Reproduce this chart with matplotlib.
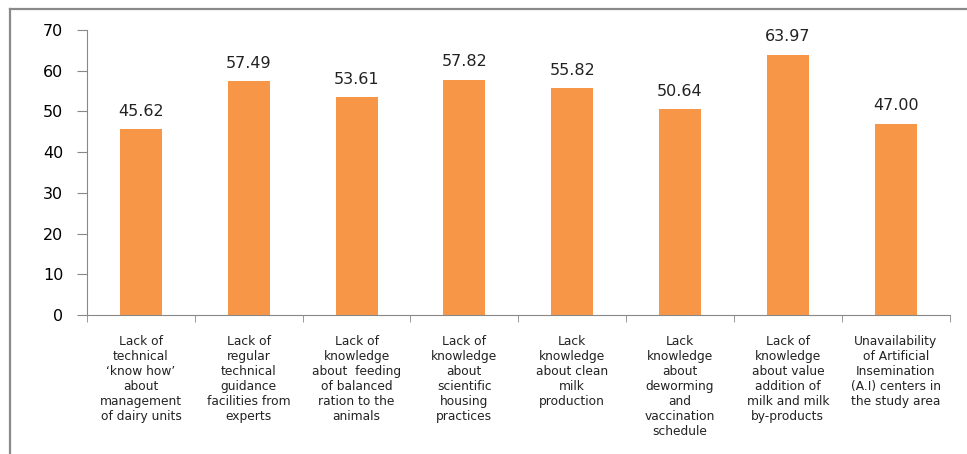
import matplotlib
matplotlib.use("Agg")
import matplotlib.pyplot as plt
from matplotlib.lines import Line2D
import numpy as np

categories = [
    "Lack of\ntechnical\n\u2018know how\u2019\nabout\nmanagement\nof dairy units",
    "Lack of\nregular\ntechnical\nguidance\nfacilities from\nexperts",
    "Lack of\nknowledge\nabout  feeding\nof balanced\nration to the\nanimals",
    "Lack of\nknowledge\nabout\nscientific\nhousing\npractices",
    "Lack\nknowledge\nabout clean\nmilk\nproduction",
    "Lack\nknowledge\nabout\ndeworming\nand\nvaccination\nschedule",
    "Lack of\nknowledge\nabout value\naddition of\nmilk and milk\nby-products",
    "Unavailability\nof Artificial\nInsemination\n(A.I) centers in\nthe study area",
]
values = [45.62, 57.49, 53.61, 57.82, 55.82, 50.64, 63.97, 47.00]

fig = plt.figure(figsize=(9.67, 4.54), dpi=100)
ax = fig.add_axes([0.09, 0.306, 0.892, 0.628])

x = np.arange(len(values))
ax.bar(x, values, width=0.39, color="#F79646")
for xi, v in zip(x, values):
    ax.text(xi, v + 2.5, "%.2f" % v, ha="center", va="bottom", fontsize=11.5, color="#222222")

ax.set_xlim(-0.5, len(values) - 0.5)
ax.set_ylim(0, 70)
ax.set_yticks(range(0, 71, 10))
ax.tick_params(axis="y", direction="out", length=7, color="#888888", labelsize=11.5, pad=10)

# category labels, ticks at the boundaries
ax.set_xticks(x)
ax.set_xticklabels(categories, fontsize=8.8, linespacing=1.2, color="#222222")
ax.tick_params(axis="x", length=0, pad=14)
ax.set_xticks(np.arange(-0.5, len(values), 1.0), minor=True)
ax.tick_params(axis="x", which="minor", direction="out", length=5, color="#888888")

for s in ["top", "right"]:
    ax.spines[s].set_visible(False)
for s in ["left", "bottom"]:
    ax.spines[s].set_color("#888888")

# outer frame (left and top edges)
fig.add_artist(Line2D([10 / 967, 10 / 967], [0, 1 - 9 / 454], color="#8a8a8a", lw=1.6))
fig.add_artist(Line2D([10 / 967, 1], [1 - 9 / 454, 1 - 9 / 454], color="#8a8a8a", lw=1.6))

fig.savefig("out.png", dpi=100)
